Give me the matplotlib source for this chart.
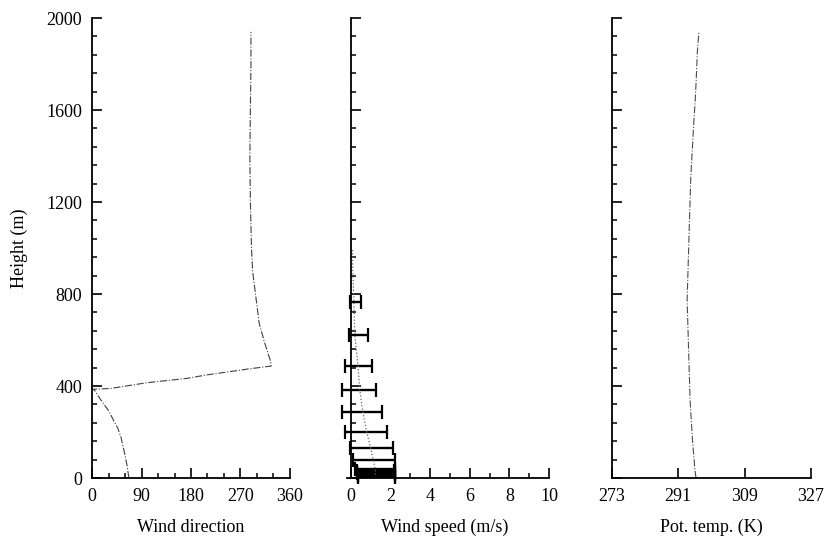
import numpy as np
import matplotlib
matplotlib.use("Agg")
import matplotlib.pyplot as plt
from matplotlib.ticker import MultipleLocator, FixedLocator

plt.rcParams['font.family'] = ['Liberation Serif', 'DejaVu Serif']

# wind direction profile (deg) vs height (m)
dir_height = [0, 50, 100, 174, 216, 238, 293, 343, 380, 386, 389, 414, 433, 448, 474, 487,
              513, 587, 673, 767, 900, 1000, 1200, 1400, 1600, 1800, 1940]
dir_value = [67, 64, 60, 53, 47, 42, 30, 15, 5, 2, 33, 99, 172, 208, 284, 326,
             324, 314, 304, 299, 292, 290, 288, 287, 288, 289, 289]

# wind speed: mean and spread (m/s)
ws_height = [5, 10, 15, 20, 25, 30, 40, 78, 130, 201, 287, 383, 487, 622, 767]
ws_mean = [1.3, 1.3, 1.3, 1.28, 1.27, 1.25, 1.22, 1.17, 1.05, 0.77, 0.55, 0.4, 0.37, 0.37, 0.22]
ws_err = [0.95, 0.95, 0.95, 0.95, 0.95, 0.95, 1.0, 1.08, 1.1, 1.07, 1.0, 0.85, 0.68, 0.48, 0.27]
ws_line_height = [0, 40, 78, 130, 201, 287, 383, 487, 622, 767, 900, 1000]
ws_line_value = [1.25, 1.22, 1.13, 1.0, 0.8, 0.6, 0.45, 0.36, 0.2, 0.15, 0.1, 0.08]

# potential temperature (K)
th_height = [0, 40, 152, 339, 556, 774, 991, 1209, 1310, 1426, 1571, 1643, 1745, 1860, 1940]
th_value = [295.8, 295.5, 294.9, 294.2, 293.8, 293.4, 293.8, 294.2, 294.4, 294.8, 295.3, 295.6, 295.9, 296.2, 296.6]

fig = plt.figure(figsize=(8.29, 5.43), dpi=100)
bottom = 0.1197
height = 0.8471
ax1 = fig.add_axes([0.111, bottom, 0.2388, height])
ax2 = fig.add_axes([0.4113, bottom, 0.2509, height])
ax3 = fig.add_axes([0.7382, bottom, 0.240, height])

for ax in (ax1, ax2, ax3):
    ax.set_ylim(0, 2000)
    ax.spines['top'].set_visible(False)
    ax.spines['right'].set_visible(False)
    ax.spines['left'].set_linewidth(1.3)
    ax.spines['bottom'].set_linewidth(1.3)
    ax.yaxis.set_major_locator(MultipleLocator(400))
    ax.yaxis.set_minor_locator(MultipleLocator(80))
    ax.tick_params(which='major', direction='in', length=7, width=1.2, labelsize=13, pad=7)
    ax.tick_params(which='minor', direction='in', length=3.5, width=1.1)
    ax.set_facecolor('none')

ax1.plot(dir_value, dir_height, '-.', color='0.25', lw=0.8)
ax1.set_xlim(0, 360)
ax1.xaxis.set_major_locator(MultipleLocator(90))
ax1.xaxis.set_minor_locator(MultipleLocator(30))
ax1.set_xlabel('Wind direction', fontsize=13, labelpad=10)
ax1.set_ylabel('Height (m)', fontsize=13, labelpad=13)

ax2.errorbar(ws_mean, ws_height, xerr=ws_err, fmt='none', ecolor='black',
             elinewidth=1.7, capsize=5, capthick=1.6, clip_on=False)
ax2.plot(ws_line_value, ws_line_height, ':', color='0.4', lw=0.9)
ax2.set_xlim(-0.5, 10)
ax2.spines['left'].set_position(('data', 0))
ax2.spines['bottom'].set_bounds(-0.2, 10)
ax2.xaxis.set_major_locator(FixedLocator([0, 2, 4, 6, 8, 10]))
ax2.xaxis.set_minor_locator(FixedLocator([1, 3, 5, 7, 9]))
ax2.set_yticklabels([])
ax2.set_xlabel('Wind speed (m/s)', fontsize=13, labelpad=10)

ax3.plot(th_value, th_height, '-.', color='0.3', lw=0.8)
ax3.set_xlim(273, 327)
ax3.xaxis.set_major_locator(FixedLocator([273, 291, 309, 327]))
ax3.set_yticklabels([])
ax3.set_xlabel('Pot. temp. (K)', fontsize=13, labelpad=10)

fig.savefig('out.png', dpi=100)
